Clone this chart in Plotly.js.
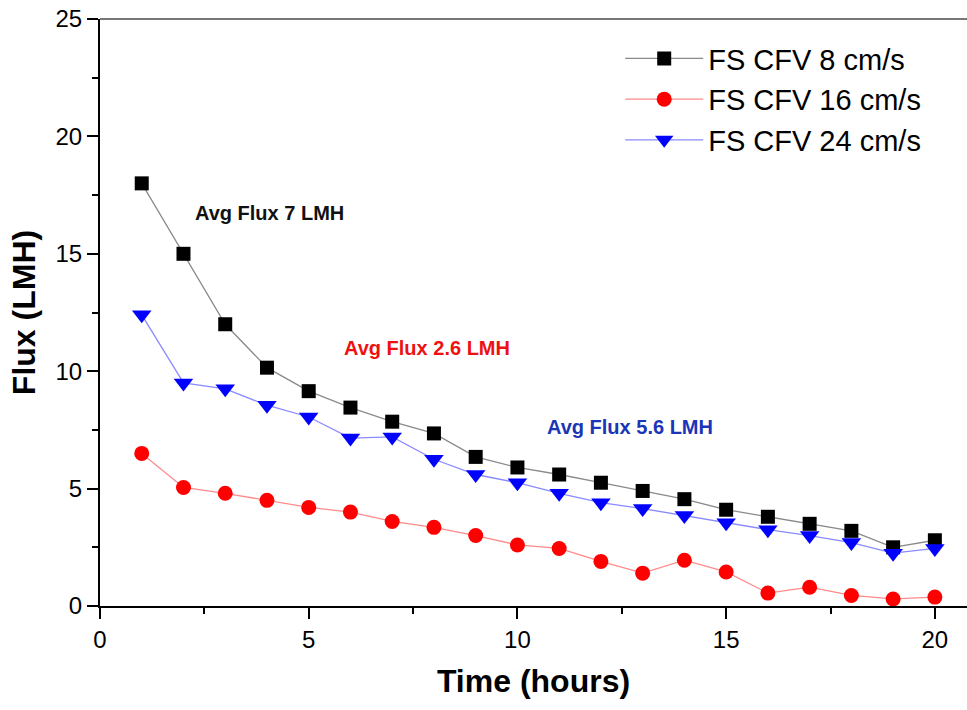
<!DOCTYPE html>
<html>
<head>
<meta charset="utf-8">
<script src="https://cdn.plot.ly/plotly-3.0.1.min.js"></script>
<style>html,body{margin:0;padding:0;background:#fff;}#chart{width:967px;height:710px;}</style>
</head>
<body>
<div id="chart"></div>
<script>
const hours = [1,2,3,4,5,6,7,8,9,10,11,12,13,14,15,16,17,18,19,20];
const flux8 = [18.0,15.0,12.0,10.15,9.15,8.45,7.85,7.35,6.35,5.9,5.6,5.25,4.9,4.55,4.1,3.8,3.5,3.2,2.5,2.8];
const flux16 = [6.5,5.05,4.8,4.5,4.2,4.0,3.6,3.35,3.0,2.6,2.45,1.9,1.4,1.95,1.45,0.55,0.8,0.45,0.3,0.38];
const flux24 = [12.4,9.5,9.25,8.55,8.05,7.15,7.2,6.25,5.6,5.25,4.8,4.4,4.15,3.85,3.55,3.25,3.0,2.7,2.25,2.45];
const seriesNames = ['FS CFV 8 cm/s','FS CFV 16 cm/s','FS CFV 24 cm/s'];
const notes = [
  {text:'Avg Flux 7 LMH', x:4.07, y:16.74, color:'#111111'},
  {text:'Avg Flux 2.6 LMH', x:7.83, y:11.0, color:'#ee1111'},
  {text:'Avg Flux 5.6 LMH', x:12.69, y:7.62, color:'#1a35b8'}
];

const traces = [
  {x:hours, y:flux8, name:seriesNames[0], mode:'lines+markers',
   line:{color:'#8a8a8a', width:1.3},
   marker:{symbol:'square', size:14, color:'#000000', line:{width:0}}},
  {x:hours, y:flux16, name:seriesNames[1], mode:'lines+markers',
   line:{color:'#ff8a8a', width:1.3},
   marker:{symbol:'circle', size:15, color:'#ff0000', line:{width:0}}},
  {x:hours, y:flux24, name:seriesNames[2], mode:'lines+markers',
   line:{color:'#8a8aff', width:1.3},
   marker:{symbol:'triangle-down', size:17, color:'#0000ff', line:{width:0}}}
];

const layout = {
  width:967, height:710,
  margin:{l:100, r:0, t:19, b:104},
  paper_bgcolor:'#ffffff', plot_bgcolor:'#ffffff',
  font:{family:'Liberation Sans, Arial, sans-serif', color:'#000'},
  showlegend:true,
  legend:{x:0.6, y:0.976, xanchor:'left', yanchor:'top', bgcolor:'rgba(0,0,0,0)',
          font:{size:29, color:'#000'}, tracegroupgap:0, itemwidth:78},
  xaxis:{range:[0,20.77], showgrid:false, zeroline:false, showline:true, linecolor:'#000', linewidth:2,
         ticks:'outside', ticklen:11, tickwidth:2, tickcolor:'#000', dtick:5, tick0:0,
         minor:{ticks:'outside', ticklen:6, tickwidth:2, tickcolor:'#000', dtick:2.5},
         tickfont:{size:24}, title:{text:'<b>Time (hours)</b>', font:{size:32}, standoff:18}},
  yaxis:{range:[0,25], showgrid:false, zeroline:false, showline:true, linecolor:'#000', linewidth:2,
         ticks:'outside', ticklen:11, tickwidth:2, tickcolor:'#000', dtick:5, tick0:0,
         minor:{ticks:'outside', ticklen:6, tickwidth:2, tickcolor:'#000', dtick:2.5},
         tickfont:{size:24}, title:{text:'<b>Flux (LMH)</b>', font:{size:32}, standoff:10}},
  shapes:[{type:'line', xref:'paper', yref:'paper', x0:0, x1:1, y0:1, y1:1, line:{color:'#777', width:2}}],
  annotations: notes.map(n => ({text:'<b>'+n.text+'</b>', x:n.x, y:n.y, xref:'x', yref:'y',
     showarrow:false, font:{size:20, color:n.color}}))
};

Plotly.newPlot('chart', traces, layout, {displayModeBar:false, staticPlot:true});
</script>
</body>
</html>
